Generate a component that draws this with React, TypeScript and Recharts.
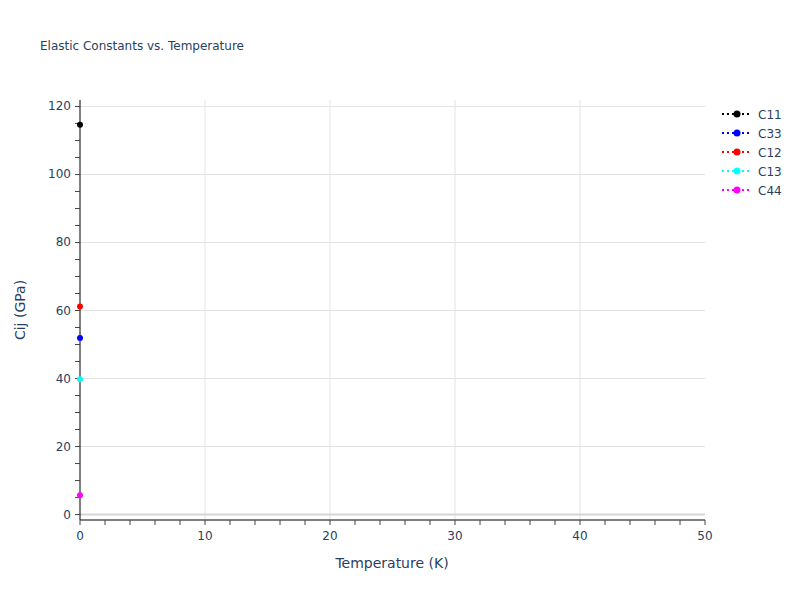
import React from "react";
import { LineChart, Line, XAxis, YAxis, ReferenceLine } from "recharts";

const temperatures = [0];
const c11 = [114.6];
const c33 = [51.9];
const c12 = [61.2];
const c13 = [39.8];
const c44 = [5.7];

const seriesNames = ["C11", "C33", "C12", "C13", "C44"];
const seriesValues = [c11, c33, c12, c13, c44];
const seriesColors = ["#000000", "#0000ff", "#ff0000", "#00ffff", "#ff00ff"];

const xTicks = [0, 2, 4, 6, 8, 10, 12, 14, 16, 18, 20, 22, 24, 26, 28, 30, 32, 34, 36, 38, 40, 42, 44, 46, 48, 50];
const yTicks = [0, 5, 10, 15, 20, 25, 30, 35, 40, 45, 50, 55, 60, 65, 70, 75, 80, 85, 90, 95, 100, 105, 110, 115, 120];
const xGrid = [10, 20, 30, 40];
const yGrid = [20, 40, 60, 80, 100, 120];

const FONT = '"DejaVu Sans", Verdana, sans-serif';
const TXT = "#2a3f5f";

const seriesData = seriesNames.map((name, i) => ({
  name,
  color: seriesColors[i],
  data: temperatures.map((t, j) => ({ t, v: seriesValues[i][j] })),
}));

const XTick = (props: any) => {
  const { x, y, payload } = props;
  if (payload.value % 10 !== 0) return <g />;
  return (
    <text x={x} y={y + 13} textAnchor="middle" fontFamily={FONT} fontSize={12} fill={TXT}>
      {payload.value}
    </text>
  );
};

const YTick = (props: any) => {
  const { x, y, payload } = props;
  if (payload.value % 20 !== 0) return <g />;
  return (
    <text x={x - 2} y={y + 4} textAnchor="end" fontFamily={FONT} fontSize={12} fill={TXT}>
      {payload.value}
    </text>
  );
};

export default function App() {
  return (
    <div style={{ position: "absolute", left: 0, top: 0, width: 800, height: 600, background: "#fff" }}>
      <div style={{ position: "absolute", left: 0, top: 0 }}>
        <LineChart width={800} height={600} margin={{ top: 100, right: 95, bottom: 50, left: 0 }}>
          {xGrid.map((v) => (
            <ReferenceLine key={"x" + v} x={v} stroke="#e3e3e3" strokeWidth={1} ifOverflow="visible" />
          ))}
          {yGrid.map((v) => (
            <ReferenceLine key={"y" + v} y={v} stroke="#e3e3e3" strokeWidth={1} ifOverflow="visible" />
          ))}
          <ReferenceLine y={0} stroke="#d6d6d6" strokeWidth={2} ifOverflow="visible" />
          <XAxis
            type="number"
            dataKey="t"
            domain={[0, 50]}
            ticks={xTicks}
            interval={0}
            allowDataOverflow
            height={30}
            axisLine={{ stroke: "#000", strokeWidth: 1 }}
            tickLine={{ stroke: "#444" }}
            tickSize={5}
            tick={<XTick />}
          />
          <YAxis
            type="number"
            dataKey="v"
            domain={[-1.6, 121.9]}
            ticks={yTicks}
            interval={0}
            allowDataOverflow
            width={80}
            axisLine={{ stroke: "#000", strokeWidth: 1 }}
            tickLine={{ stroke: "#444" }}
            tickSize={5}
            tick={<YTick />}
          />
          {seriesData.map((s) => (
            <Line
              key={s.name}
              data={s.data}
              dataKey="v"
              name={s.name}
              stroke={s.color}
              strokeWidth={2}
              strokeDasharray="2 3"
              dot={{ r: 3, fill: s.color, stroke: s.color, strokeWidth: 0, clipDot: false }}
              isAnimationActive={false}
            />
          ))}
        </LineChart>
      </div>
      <svg style={{ position: "absolute", left: 0, top: 0, pointerEvents: "none" }} width={800} height={600}>
        <text x={40} y={50} fontFamily={FONT} fontSize={12} fill={TXT}>
          Elastic Constants vs. Temperature
        </text>
        <text x={392} y={568} textAnchor="middle" fontFamily={FONT} fontSize={14} fill={TXT}>
          Temperature (K)
        </text>
        <text
          x={25}
          y={310}
          textAnchor="middle"
          fontFamily={FONT}
          fontSize={14}
          fill={TXT}
          transform="rotate(-90 25 310)"
        >
          Cij (GPa)
        </text>
        {seriesData.map((s, i) => (
          <g key={s.name} transform={`translate(0, ${114 + i * 19})`}>
            <line x1={722} x2={752} y1={0} y2={0} stroke={s.color} strokeWidth={2} strokeDasharray="2 3" />
            <circle cx={737} cy={0} r={3.5} fill={s.color} />
            <text x={758} y={4.5} fontFamily={FONT} fontSize={12} fill={TXT}>
              {s.name}
            </text>
          </g>
        ))}
      </svg>
    </div>
  );
}
